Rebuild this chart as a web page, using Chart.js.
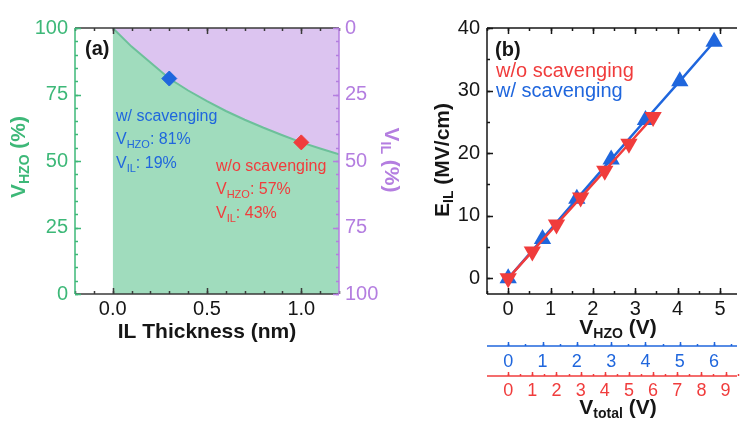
<!DOCTYPE html>
<html>
<head>
<meta charset="utf-8">
<script src="https://cdn.jsdelivr.net/npm/chart.js@4.4.1/dist/chart.umd.min.js"></script>
<style>
  html, body { margin: 0; padding: 0; background: #fff; overflow: hidden; }
  #wrap { position: relative; width: 747px; height: 421px; }
  canvas { position: absolute; top: 0; }
  #chart-a { left: 0; }
  #chart-b { left: 380px; }
</style>
</head>
<body>
<div id="wrap">
  <canvas id="chart-a" width="420" height="421"></canvas>
  <canvas id="chart-b" width="367" height="421"></canvas>
</div>
<script>
// (a) voltage division between HZO and IL vs IL thickness
const ilThickness = [0, 0.1, 0.2, 0.3, 0.4, 0.5, 0.6, 0.7, 0.8, 0.9, 1.0, 1.1, 1.2];
const vHzoPct = [100, 93, 87, 81, 76.5, 72.5, 68.8, 65.5, 62.5, 59.7, 57, 54.7, 52.5];
const devices = ['w/ scavenging', 'w/o scavenging'];
const deviceIl = [0.3, 1.0];
const deviceVhzo = [81, 57];
const thickTicks = [0, 0.5, 1.0];
const pctTicks = [0, 25, 50, 75, 100];

// (b) IL field vs voltage on HZO
const vHzoScav = [0, 0.81, 1.62, 2.43, 3.24, 4.05, 4.86];
const eIlScav = [0, 6.3, 12.7, 19.0, 25.3, 31.5, 37.8];
const vHzoNoScav = [0, 0.57, 1.14, 1.71, 2.28, 2.85, 3.42];
const eIlNoScav = [0, 4.3, 8.6, 12.9, 17.2, 21.5, 25.8];
const vHzoTicks = [0, 1, 2, 3, 4, 5];
const eTicks = [0, 10, 20, 30, 40];
const vTotalScavTicks = [0, 1, 2, 3, 4, 5, 6];
const vTotalNoScavTicks = [0, 1, 2, 3, 4, 5, 6, 7, 8, 9];

const FONT = "'Liberation Sans', Arial, Helvetica, sans-serif";
const INK = '#161616';
const GREEN = '#3db878', GREEN_FILL = '#a0dcbd', GREEN_LINE = '#6cc09a';
const PURPLE = '#b47ee0', PURPLE_FILL = '#dcc4f0';
const BLUE = '#1f66dd', RED = '#f03c3c';

// share of the total voltage that lands on HZO, per device
const hzoShare = deviceVhzo.map(v => v / 100);

function steps(a, b, d) {
  const out = [];
  for (let v = a; v <= b + 1e-9; v += d) out.push(+v.toFixed(4));
  return out;
}
const pts = (xs, ys) => xs.map((x, i) => ({ x, y: ys[i] }));
const fixedTicks = list => s => { s.ticks = list.map(v => ({ value: v })); };

// text with optional subscript pieces: parts = [[text, isSub], ...]
function rich(ctx, parts, x, y, rot, size, color, bold, align) {
  const face = s => `${bold ? 'bold ' : ''}${s}px ${FONT}`;
  const sub = Math.round(size * 0.66);
  ctx.save();
  ctx.translate(x, y);
  ctx.rotate(rot);
  ctx.fillStyle = color;
  ctx.textBaseline = 'middle';
  ctx.textAlign = 'left';
  let w = 0;
  for (const [t, s] of parts) { ctx.font = face(s ? sub : size); w += ctx.measureText(t).width; }
  let cx = align === 'center' ? -w / 2 : 0;
  for (const [t, s] of parts) {
    ctx.font = face(s ? sub : size);
    ctx.fillText(t, cx, s ? size * 0.3 : 0);
    cx += ctx.measureText(t).width;
  }
  ctx.restore();
}

function seg(ctx, x1, y1, x2, y2) {
  ctx.beginPath(); ctx.moveTo(x1, y1); ctx.lineTo(x2, y2); ctx.stroke();
}
// tick marks along a horizontal scale, from y0 going len px (negative = up)
function hMarks(ctx, scale, values, y0, len) {
  ctx.beginPath();
  for (const v of values) {
    const p = Math.round(scale.getPixelForValue(v)) + 0.5;
    ctx.moveTo(p, y0); ctx.lineTo(p, y0 + len);
  }
  ctx.stroke();
}
// tick marks along a vertical scale, from x0 going len px (negative = left)
function vMarks(ctx, scale, values, x0, len) {
  ctx.beginPath();
  for (const v of values) {
    const p = Math.round(scale.getPixelForValue(v)) + 0.5;
    ctx.moveTo(x0, p); ctx.lineTo(x0 + len, p);
  }
  ctx.stroke();
}

const noGrid = { display: false, drawTicks: false };
const noBorder = { display: false };

// ---------- panel (a) ----------
const frameA = {
  id: 'frameA',
  afterDatasetsDraw(chart) {
    const { ctx, chartArea: a } = chart;
    const { x, y, y2 } = chart.scales;
    ctx.save();
    ctx.lineWidth = 1.5;
    ctx.strokeStyle = '#3a3a3a';
    seg(ctx, a.left, a.top, a.right, a.top);
    seg(ctx, a.left, a.bottom, a.right, a.bottom);
    const minorX = steps(-0.2, 1.2, 0.1);
    hMarks(ctx, x, minorX, a.top, 3);
    hMarks(ctx, x, thickTicks, a.top, 6);
    hMarks(ctx, x, minorX, a.bottom, -3);
    hMarks(ctx, x, thickTicks, a.bottom, -6);

    const minorY = steps(0, 100, 5);
    ctx.strokeStyle = GREEN;
    seg(ctx, a.left, a.top, a.left, a.bottom);
    vMarks(ctx, y, minorY, a.left, 3);
    vMarks(ctx, y, pctTicks, a.left, 6);
    ctx.strokeStyle = PURPLE;
    seg(ctx, a.right, a.top, a.right, a.bottom);
    vMarks(ctx, y2, minorY, a.right, -3);
    vMarks(ctx, y2, pctTicks, a.right, -6);
    ctx.restore();
  },
  afterDraw(chart) {
    const ctx = chart.ctx;
    rich(ctx, [['IL Thickness (nm)']], 207, 332, 0, 21, INK, true, 'center');
    rich(ctx, [['V'], ['HZO', 1], [' (%)']], 19, 157, -Math.PI / 2, 21, GREEN, true, 'center');
    rich(ctx, [['V'], ['IL', 1], [' (%)']], 391, 160, Math.PI / 2, 21, PURPLE, true, 'center');
    rich(ctx, [['(a)']], 85, 49, 0, 20, INK, true, 'left');

    // device notes next to the diamonds
    const notes = [
      { color: BLUE, x: 116, y: 117 },
      { color: RED, x: 216, y: 167 }
    ];
    notes.forEach((n, i) => {
      rich(ctx, [[devices[i]]], n.x, n.y, 0, 16, n.color, false, 'left');
      rich(ctx, [['V'], ['HZO', 1], [`: ${deviceVhzo[i]}%`]], n.x, n.y + 23, 0, 16, n.color, false, 'left');
      rich(ctx, [['V'], ['IL', 1], [`: ${100 - deviceVhzo[i]}%`]], n.x, n.y + 47, 0, 16, n.color, false, 'left');
    });
  }
};

const curve = pts(ilThickness, vHzoPct);

new Chart(document.getElementById('chart-a'), {
  type: 'line',
  data: {
    datasets: [
      { label: devices[0], data: [{ x: deviceIl[0], y: deviceVhzo[0] }], showLine: false,
        pointStyle: 'rectRot', pointRadius: 7.5, backgroundColor: BLUE, borderColor: BLUE },
      { label: devices[1], data: [{ x: deviceIl[1], y: deviceVhzo[1] }], showLine: false,
        pointStyle: 'rectRot', pointRadius: 7.5, backgroundColor: RED, borderColor: RED },
      { label: 'V_HZO', data: curve, fill: 'start', backgroundColor: GREEN_FILL,
        borderColor: GREEN_LINE, borderWidth: 2, pointRadius: 0 },
      { label: 'V_IL', data: curve, fill: 'end', backgroundColor: PURPLE_FILL,
        borderColor: 'transparent', borderWidth: 0, pointRadius: 0 }
    ]
  },
  options: {
    responsive: false,
    animation: false,
    layout: { padding: { top: 28, left: 0, right: 0, bottom: 0 } },
    plugins: { legend: { display: false }, tooltip: { enabled: false } },
    scales: {
      x: {
        type: 'linear', min: -0.2, max: 1.2, grid: noGrid, border: noBorder,
        afterBuildTicks: fixedTicks(thickTicks),
        ticks: { callback: v => v.toFixed(1), color: INK, font: { size: 20, family: FONT },
                 padding: 3, maxRotation: 0, autoSkip: false },
        afterFit: s => { s.height = 127; }
      },
      y: {
        min: 0, max: 100, grid: noGrid, border: noBorder,
        afterBuildTicks: fixedTicks(pctTicks),
        ticks: { color: GREEN, font: { size: 20, family: FONT }, padding: 7 },
        afterFit: s => { s.width = 75; }
      },
      y2: {
        position: 'right', reverse: true, min: 0, max: 100, grid: noGrid, border: noBorder,
        afterBuildTicks: fixedTicks(pctTicks),
        ticks: { color: PURPLE, font: { size: 20, family: FONT }, padding: 6 },
        afterFit: s => { s.width = 81; }
      }
    }
  },
  plugins: [frameA]
});

// ---------- panel (b) ----------
const X_MIN = -0.5, X_MAX = 5.4;

const frameB = {
  id: 'frameB',
  afterDatasetsDraw(chart) {
    const { ctx, chartArea: a } = chart;
    const { x, y, xs, xn } = chart.scales;
    ctx.save();
    ctx.lineWidth = 1.5;
    ctx.strokeStyle = INK;
    seg(ctx, a.left, a.top, a.right, a.top);
    seg(ctx, a.left, a.bottom, a.right, a.bottom);
    seg(ctx, a.left, a.top, a.left, a.bottom);
    const minorX = steps(-0.5, 5.4, 0.5);
    hMarks(ctx, x, minorX, a.top, 3);
    hMarks(ctx, x, vHzoTicks, a.top, 6);
    hMarks(ctx, x, minorX, a.bottom, -3);
    hMarks(ctx, x, vHzoTicks, a.bottom, -6);
    vMarks(ctx, y, steps(0, 40, 5), a.left, 3);
    vMarks(ctx, y, eTicks, a.left, 6);

    // V_total axes for each device, ticks pointing up
    ctx.strokeStyle = BLUE;
    seg(ctx, a.left, xs.top, a.right, xs.top);
    hMarks(ctx, xs, steps(0, 6.5, 0.5), xs.top, -2);
    hMarks(ctx, xs, vTotalScavTicks, xs.top, -4);
    ctx.strokeStyle = RED;
    seg(ctx, a.left, xn.top, a.right, xn.top);
    hMarks(ctx, xn, steps(0, 9.5, 0.5), xn.top, -2);
    hMarks(ctx, xn, vTotalNoScavTicks, xn.top, -4);
    ctx.restore();
  },
  afterDraw(chart) {
    const ctx = chart.ctx;
    rich(ctx, [['E'], ['IL', 1], [' (MV/cm)']], 63, 160, -Math.PI / 2, 21, INK, true, 'center');
    rich(ctx, [['V'], ['HZO', 1], [' (V)']], 238, 328, 0, 21, INK, true, 'center');
    rich(ctx, [['V'], ['total', 1], [' (V)']], 238, 408, 0, 21, INK, true, 'center');
    rich(ctx, [['(b)']], 115, 50, 0, 20, INK, true, 'left');
    rich(ctx, [[devices[1]]], 116, 71, 0, 20, RED, false, 'left');
    rich(ctx, [[devices[0]]], 116, 91, 0, 20, BLUE, false, 'left');
  }
};

new Chart(document.getElementById('chart-b'), {
  type: 'line',
  data: {
    datasets: [
      { label: devices[1], data: pts(vHzoNoScav, eIlNoScav), xAxisID: 'x', yAxisID: 'y',
        borderColor: RED, backgroundColor: RED, borderWidth: 2.5,
        pointStyle: 'triangle', pointRotation: 180, pointRadius: 10, pointBorderWidth: 0 },
      { label: devices[0], data: pts(vHzoScav, eIlScav), xAxisID: 'x', yAxisID: 'y',
        borderColor: BLUE, backgroundColor: BLUE, borderWidth: 2.5,
        pointStyle: 'triangle', pointRadius: 10, pointBorderWidth: 0 }
    ]
  },
  options: {
    responsive: false,
    animation: false,
    clip: false,
    layout: { padding: { top: 28, left: 0, right: 0, bottom: 0 } },
    plugins: { legend: { display: false }, tooltip: { enabled: false } },
    scales: {
      x: {
        type: 'linear', position: 'bottom', min: X_MIN, max: X_MAX, grid: noGrid, border: noBorder,
        afterBuildTicks: fixedTicks(vHzoTicks),
        ticks: { color: INK, font: { size: 20, family: FONT }, padding: 3, maxRotation: 0, autoSkip: false },
        afterFit: s => { s.height = 52; }
      },
      xs: {
        type: 'linear', position: 'bottom', min: X_MIN / hzoShare[0], max: X_MAX / hzoShare[0],
        grid: noGrid, border: noBorder,
        afterBuildTicks: fixedTicks(vTotalScavTicks),
        ticks: { color: BLUE, font: { size: 18, family: FONT }, padding: 5, maxRotation: 0, autoSkip: false },
        afterFit: s => { s.height = 30; }
      },
      xn: {
        type: 'linear', position: 'bottom', min: X_MIN / hzoShare[1], max: X_MAX / hzoShare[1],
        grid: noGrid, border: noBorder,
        afterBuildTicks: fixedTicks(vTotalNoScavTicks),
        ticks: { color: RED, font: { size: 18, family: FONT }, padding: 4, maxRotation: 0, autoSkip: false },
        afterFit: s => { s.height = 45; }
      },
      y: {
        min: -2.5, max: 40, grid: noGrid, border: noBorder,
        afterBuildTicks: fixedTicks(eTicks),
        ticks: { color: INK, font: { size: 20, family: FONT }, padding: 7 },
        afterFit: s => { s.width = 107; }
      }
    }
  },
  plugins: [frameB]
});
</script>
</body>
</html>
